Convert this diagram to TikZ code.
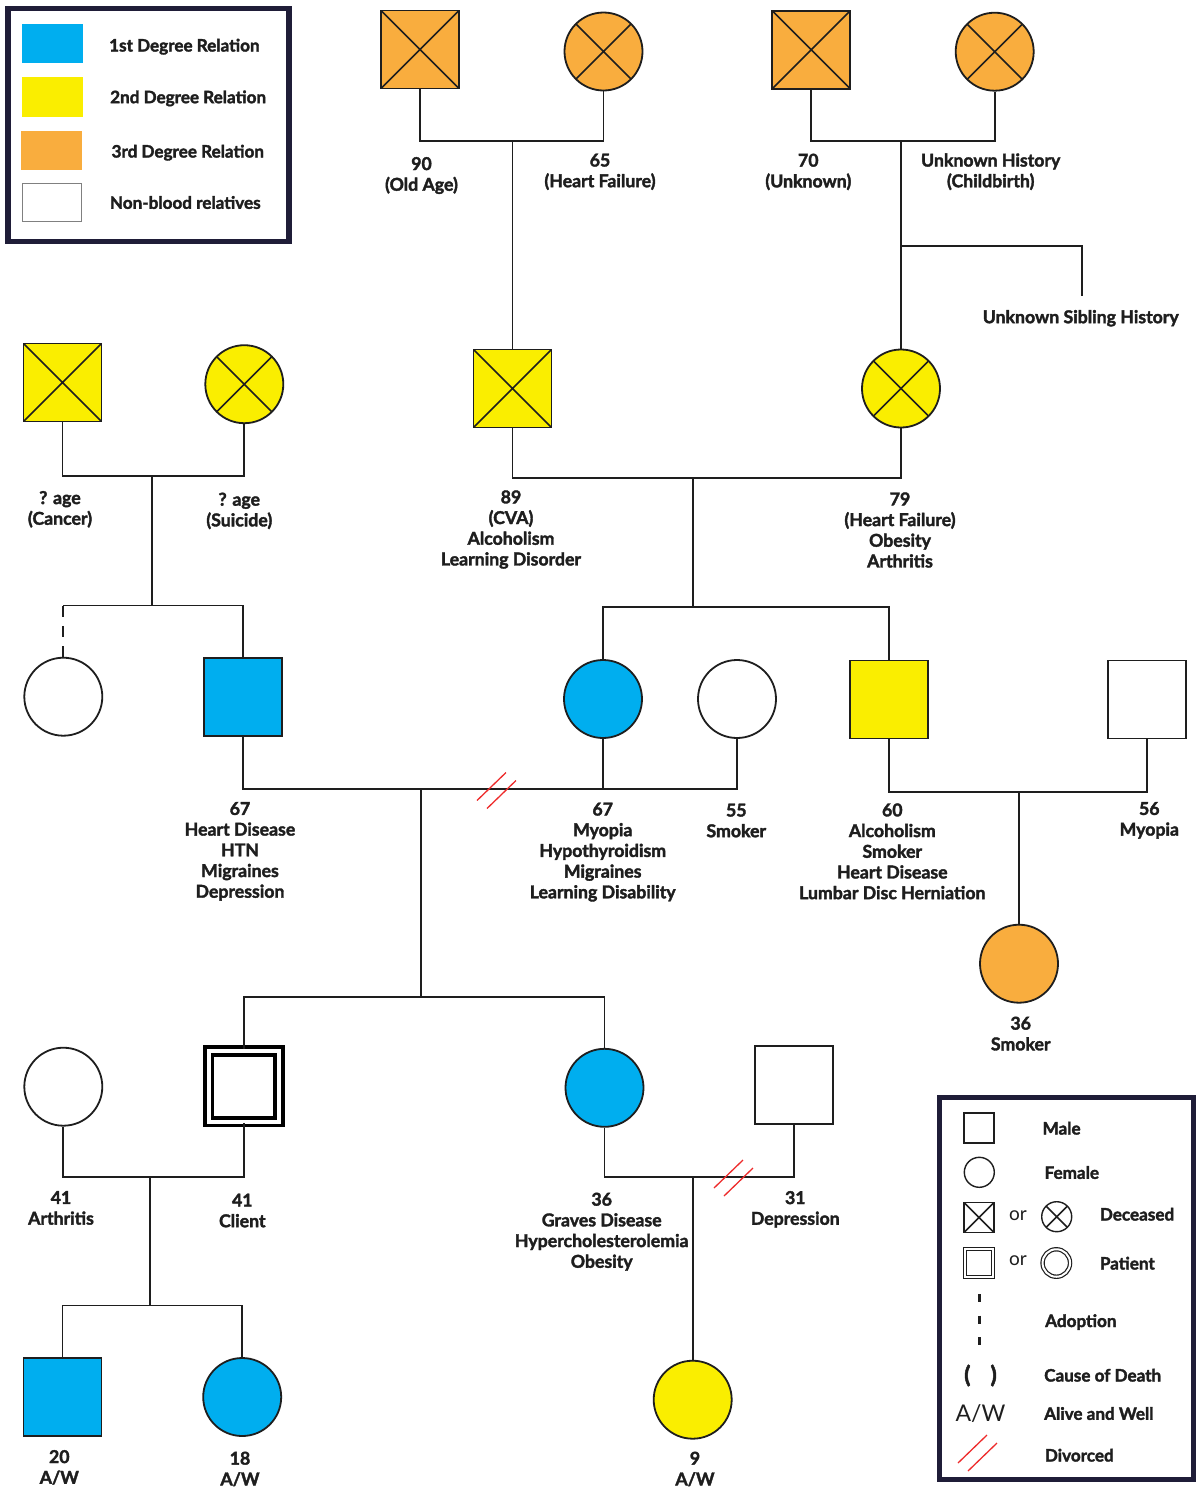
\documentclass[tikz,border=0pt]{standalone}
\usepackage{fontspec}
\setmainfont{Lato}[BoldFeatures={FakeBold=2}]

\definecolor{firstdeg}{HTML}{00AEEF}
\definecolor{seconddeg}{HTML}{FAEE00}
\definecolor{thirddeg}{HTML}{F9AD3E}
\definecolor{legendframe}{HTML}{1F1D38}
\definecolor{divred}{HTML}{EE2B2B}
\definecolor{linegray}{HTML}{1E1E1E}

\newcommand{\lblfont}{\fontsize{17.7}{20.7}\selectfont\bfseries}
\newcommand{\keyfont}{\fontsize{17.1}{20}\selectfont\bfseries}
\newcommand{\divorcemark}[1]{\draw[divline] (#1) ++(-20,11) -- ++(29,-28) (#1) ++(-10,19) -- ++(29,-28);}

\tikzset{
  male/.style={rectangle, draw=linegray, line width=1.8pt, minimum size=78pt, inner sep=0pt},
  female/.style={circle, draw=linegray, line width=1.8pt, minimum size=78pt, inner sep=0pt},
  dead/.style={path picture={\draw[line width=1.6pt] (path picture bounding box.north west) -- (path picture bounding box.south east) (path picture bounding box.south west) -- (path picture bounding box.north east);}},
  patient/.style={rectangle, draw=black, double=white, double distance=4pt, line width=3.8pt, minimum size=70.5pt, inner sep=0pt},
  lmale/.style={male, line width=1.4pt, minimum size=30pt},
  lfemale/.style={female, line width=1.4pt, minimum size=30pt},
  lpat/.style={double=white, double distance=2pt, line width=1.2pt, minimum size=27.5pt},
  adopt/.style={dash pattern=on 11pt off 9.3pt},
  divline/.style={divred, line width=1.3pt},
  lbl/.style={align=center, anchor=north, inner sep=0pt, font=\lblfont},
  ltext/.style={anchor=base west, inner sep=0pt, font=\keyfont},
  swatch/.style={rectangle, minimum width=61pt, minimum height=39.5pt, inner sep=0pt},
}

\begin{document}
\begin{tikzpicture}[x=1pt, y=-1pt, line width=1.8pt, color=linegray]
\fill[white] (0,0) rectangle (1196,1494);
\useasboundingbox (0,0) rectangle (1196,1494);

% degree legend
\draw[legendframe, line width=5.5pt] (8,8.5) rectangle (289,241.3);
\node[swatch, fill=firstdeg] (sw1) at (52,43.7) {};
\node[swatch, fill=seconddeg] (sw2) at (52.6,97) {};
\node[swatch, fill=thirddeg] (sw3) at (51.3,150.4) {};
\node[swatch, draw=gray, line width=1pt, minimum width=59.5pt, minimum height=38pt] (sw4) at (52.2,202.8) {};
\node[ltext] (lt1) at (108.3,51.5) {1st Degree Relation};
\node[ltext] (lt2) at (109.3,103.2) {2nd Degree Relation};
\node[ltext] (lt3) at (110.7,157.5) {3rd Degree Relation};
\node[ltext] (lt4) at (109,208.8) {Non-blood relatives};

% great-grandparents
\node[male, dead, fill=thirddeg] (ggf1) at (420,49.5) {};
\node[female, dead, fill=thirddeg] (ggm1) at (603.5,51.5) {};
\node[male, dead, fill=thirddeg] (ggf2) at (811.3,49.7) {};
\node[female, dead, fill=thirddeg] (ggm2) at (994.7,51.7) {};
\node[lbl] (t90) at (421.5,156.2) {90\\(Old Age)};
\node[lbl] (t65) at (600,152.8) {65\\(Heart Failure)};
\node[lbl] (t70) at (808.3,152.8) {70\\(Unknown)};
\node[lbl] (tuh) at (990.7,152.5) {Unknown History\\(Childbirth)};

\coordinate (c1) at (512.5,141);
\draw (ggf1.south) |- (c1) -| (ggm1.south);
\coordinate (c2) at (901,141);
\draw (ggf2.south) |- (c2) -| (ggm2.south);
\coordinate (sib) at (901,245.7);
\coordinate (sibend) at (1081.7,296);
\draw (sib) -| (sibend);
\node[lbl, anchor=base] (tsib) at (1080.7,323.2) {Unknown Sibling History};

% grandparents
\node[male, dead, fill=seconddeg] (gfa) at (62.5,382.5) {};
\node[female, dead, fill=seconddeg] (gma) at (244.3,384.2) {};
\node[male, dead, fill=seconddeg] (gfb) at (512.5,388.5) {};
\node[female, dead, fill=seconddeg] (gmb) at (901,388.5) {};
\draw (c1) -- (gfb.north);
\draw (c2) -- (gmb.north);
\node[lbl] (tca) at (60,490.2) {? age\\(Cancer)};
\node[lbl] (tsu) at (239.3,491.8) {? age\\(Suicide)};
\node[lbl] (t89) at (511,489.5) {89\\(CVA)\\Alcoholism\\Learning Disorder};
\node[lbl] (t79) at (900,491.5) {79\\(Heart Failure)\\Obesity\\Arthritis};

\coordinate (c3) at (151.7,476);
\draw (gfa.south) |- (c3) -| (gma.south);
\coordinate (c4) at (693,478);
\draw (gfb.south) |- (c4) -| (gmb.south);

% parents
\node[female] (aunt) at (63.3,696.7) {};
\node[male, fill=firstdeg] (father) at (243,697) {};
\node[female, fill=firstdeg] (mother) at (603,699) {};
\node[female] (partner) at (737,699) {};
\node[male, fill=seconddeg] (uncle) at (889,699.5) {};
\node[male] (inlaw) at (1146.7,699.5) {};
\node[female, fill=thirddeg] (cousin) at (1019,963.7) {};

\coordinate (b3) at (151.7,605.5);
\draw (c3) -- (b3);
\draw (b3) -| (father.north);
\draw (b3) -- (b3 -| aunt.north);
\draw[adopt] (b3 -| aunt.north) -- (aunt.north);
\coordinate (b4) at (693,607);
\draw (c4) -- (b4);
\draw (mother.north) |- (b4) -| (uncle.north);

\coordinate (c5) at (421,789);
\draw (father.south) |- (c5) -| (partner.south);
\draw (mother.south) -- (mother.south |- c5);
\coordinate (dv1) at (497,789.5);
\divorcemark{dv1}
\coordinate (c6) at (1019,792.3);
\draw (uncle.south) |- (c6) -| (inlaw.south);
\draw (c6) -- (cousin.north);

\node[lbl] (t67m) at (240,801.2) {67\\Heart Disease\\HTN\\Migraines\\Depression};
\node[lbl] (t67f) at (602.7,801.8) {67\\Myopia\\Hypothyroidism\\Migraines\\Learning Disability};
\node[lbl] (t55) at (736.3,802.8) {55\\Smoker};
\node[lbl] (t60) at (892.3,802.5) {60\\Alcoholism\\Smoker\\Heart Disease\\Lumbar Disc Herniation};
\node[lbl] (t56) at (1149.3,801.2) {56\\Myopia};
\node[lbl] (t36s) at (1020.7,1015.8) {36\\Smoker};

% client generation
\node[female] (wife) at (63.3,1086.7) {};
\node[patient] (client) at (243.8,1086.3) {};
\node[female, fill=firstdeg] (sister) at (604.5,1087.8) {};
\node[male] (sisex) at (794.2,1085.2) {};

\coordinate (b5) at (421,997);
\draw (c5) -- (b5);
\draw (client.north) |- (b5) -| (sister.north);

\coordinate (c7) at (150,1177.3);
\draw (wife.south) |- (c7) -| (client.south);
\coordinate (c8) at (692.7,1177);
\draw (sister.south) |- (c8) -| (sisex.south);
\coordinate (dv2) at (734,1177);
\divorcemark{dv2}

\node[lbl] (t41a) at (61,1190.2) {41\\Arthritis};
\node[lbl] (t41c) at (242.3,1192.8) {41\\Client};
\node[lbl] (t36g) at (601.7,1191.8) {36\\Graves Disease\\Hypercholesterolemia\\Obesity};
\node[lbl] (t31) at (795.3,1190.2) {31\\Depression};

% children
\node[male, fill=firstdeg] (son) at (62.5,1397.3) {};
\node[female, fill=firstdeg] (daughter) at (242.2,1397) {};
\node[female, fill=seconddeg] (niece) at (692.7,1399.7) {};

\coordinate (b7) at (150,1305.5);
\draw (c7) -- (b7);
\draw (son.north) |- (b7) -| (daughter.north);
\draw (c8) -- (niece.north);

\node[lbl] (t20) at (59.3,1449.2) {20\\A/W};
\node[lbl] (t18) at (240,1450.8) {18\\A/W};
\node[lbl] (t9) at (695,1450.8) {9\\A/W};

% symbol legend
\draw[legendframe, line width=5pt] (939.3,1097.3) rectangle (1193.5,1479.7);
\node[lmale] (lgm) at (979,1128) {};
\node[ltext] (lgmt) at (1041.7,1134.5) {Male};
\node[lfemale] (lgf) at (979.3,1172.3) {};
\node[ltext] (lgft) at (1043.7,1178.8) {Female};
\node[lmale, dead] (lgdm) at (979,1217.5) {};
\node[font=\fontsize{19}{20}\selectfont] (lgor1) at (1018,1216) {or};
\node[lfemale, dead] (lgdf) at (1056.7,1216.7) {};
\node[ltext] (lgdt) at (1099,1220.5) {Deceased};
\node[lmale, lpat] (lgpm) at (979,1263) {};
\node[font=\fontsize{19}{20}\selectfont] (lgor2) at (1018,1261) {or};
\node[lfemale, lpat] (lgpf) at (1056.3,1263) {};
\node[ltext] (lgpt) at (1099,1269.5) {Patient};
\coordinate (lga1) at (979.3,1294);
\coordinate (lga2) at (979.3,1345);
\draw[dash pattern=on 8pt off 13.5pt, line width=2.7pt] (lga1) -- (lga2);
\node[ltext] (lgat) at (1044.3,1327) {Adoption};
\node[font=\fontsize{23}{25}\selectfont\bfseries, inner sep=0pt] (lgc) at (980.5,1375.5) {(\hspace{20pt})};
\node[ltext] (lgct) at (1043.3,1381.5) {Cause of Death};
\node[font=\fontsize{23}{25}\selectfont, inner sep=0pt] (lgaw) at (980.5,1414) {A/W};
\node[ltext] (lgawt) at (1043.3,1419.8) {Alive and Well};
\coordinate (dv3) at (978,1452);
\divorcemark{dv3}
\node[ltext] (lgdvt) at (1044,1461.5) {Divorced};
\end{tikzpicture}
\end{document}
